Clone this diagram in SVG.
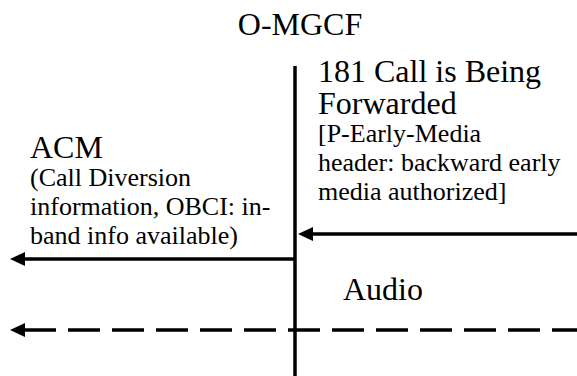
<svg xmlns="http://www.w3.org/2000/svg" width="577" height="376" viewBox="0 0 577 376">
<style>
text{font-family:"Liberation Serif","Times New Roman",serif;fill:#000}
.big{font-size:32px}
.small{font-size:26px}
.ln{stroke:#000;stroke-width:3.5;fill:none}
</style>
<defs>
<marker id="ah" markerWidth="15" markerHeight="14" refX="0" refY="7" orient="auto" markerUnits="userSpaceOnUse" overflow="visible">
<path d="M0,0 L15,7 L0,14 Z" fill="#000"/>
</marker>
</defs>
<rect width="577" height="376" fill="#fff"/>
<g id="lifeline">
<text class="big" x="300" y="35" text-anchor="middle">O-MGCF</text>
<line class="ln" x1="295" y1="66" x2="295" y2="376"/>
</g>
<g id="label-181">
<text class="big" x="318" y="82">181 Call is Being</text>
<text class="big" x="318" y="114">Forwarded</text>
<text class="small" x="318" y="142">[P-Early-Media</text>
<text class="small" x="318" y="171">header: backward early</text>
<text class="small" x="318" y="200">media authorized]</text>
</g>
<g id="label-acm">
<text class="big" x="30" y="158">ACM</text>
<text class="small" x="30" y="186">(Call Diversion</text>
<text class="small" x="30" y="215">information, OBCI: in-</text>
<text class="small" x="30" y="244">band info available)</text>
</g>
<g id="label-audio">
<text class="big" x="343" y="300">Audio</text>
</g>
<g id="connectors">
<line class="ln" x1="577" y1="234" x2="313" y2="234" marker-end="url(#ah)"/>
<line class="ln" x1="295" y1="259" x2="25" y2="259" marker-end="url(#ah)"/>
<line class="ln" x1="577" y1="330" x2="25" y2="330" stroke-dasharray="32 12" stroke-dashoffset="7" marker-end="url(#ah)"/>
</g>
</svg>
